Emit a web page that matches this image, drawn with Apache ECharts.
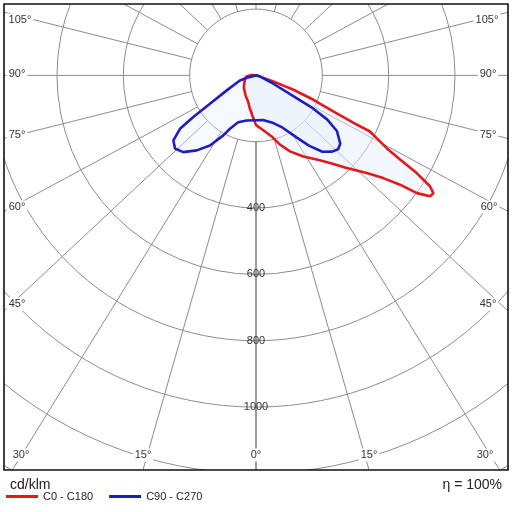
<!DOCTYPE html>
<html><head><meta charset="utf-8">
<script src="https://cdn.jsdelivr.net/npm/echarts@6/dist/echarts.min.js"></script>
<style>html,body{margin:0;padding:0;background:#fff}#c{width:512px;height:512px}</style>
</head><body><div id="c"></div>
<script>
// ---- data (gamma angle in degrees, intensity in cd/klm) ----
const c0Angles   = [0, 7.6, 14.4, 19.1, 24.1, 30.3, 35.8, 40.2, 44.4, 48.6, 51.1, 52.8, 53.8, 55.2, 56.4, 57.5, 58.7, 59.7, 60.9, 62.5, 63.8, 64.1, 65.0, 67.0, 69.0, 70.9, 73, 80, 180];
const c0Values   = [149, 167, 190, 221, 251, 283, 313, 346, 391, 445, 493, 545, 601, 639, 642, 622, 567, 503, 451, 410, 383, 327, 257, 188, 121, 55, 15, 3, 0];
const c180Angles = [0, 5, 11, 17, 26, 45, 67, 84, 95, 120, 180];
const c180Values = [150, 122, 100, 82, 70, 52, 37, 29, 15, 5, 0];
const c90Angles  = [0, 10, 20, 27, 33, 37, 41, 45, 48, 51, 55.5, 58.2, 60.1, 61.0, 65.2, 75, 90, 180];
const c90Values  = [135, 137, 153, 177, 222, 265, 305, 325, 333, 327, 296, 253, 193, 130, 51, 12, 3, 0];
const c270Angles = [0, 11.7, 20.8, 26, 28.6, 33.3, 38.3, 43.5, 47.9, 51.8, 54.9, 56.4, 58.4, 62.9, 72.6, 76, 90, 180];
const c270Values = [135, 139, 151, 179, 206, 253, 288, 319, 329, 317, 280, 227, 163, 99, 51, 25, 3, 0];
const radialLabels = [400, 600, 800, 1000];
const spokeAngles = [0, 15, 30, 45, 60, 75, 90, 105, 120, 135, 150, 165, 180];
const seriesNames = ['C0 - C180', 'C90 - C270'];

// ---- layout / style ----
const FONT = 'Arial, "Liberation Sans", sans-serif';
const RED = '#e3191c', BLUE = '#1d1dc4';
const K = 0.935; // apparent vertical compression of the angle rays in the reference
const angleLabelLayout = [
  ['105°', 20, 20], ['90°', 17, 74], ['75°', 17, 135], ['60°', 17, 207], ['45°', 17, 304], ['30°', 21, 455],
  ['15°', 143, 455], ['0°', 256, 455], ['15°', 369, 455], ['30°', 485, 455],
  ['45°', 488, 304], ['60°', 489, 207], ['75°', 488, 135], ['90°', 488, 74], ['105°', 487, 20]
];

function rightPts(a, v) { return a.map((g, i) => [v[i], g]); }
function leftPts(a, v) { return a.map((g, i) => [v[i], 360 - g]).reverse(); }
const redData = leftPts(c180Angles, c180Values).concat(rightPts(c0Angles, c0Values));
const blueData = leftPts(c270Angles, c270Values).concat(rightPts(c90Angles, c90Values));

function apparent(t) { const r = t * Math.PI / 180; return Math.atan2(Math.sin(r), K * Math.cos(r)) * 180 / Math.PI; }
const spokeSeries = [];
spokeAngles.forEach(t => {
  const a = apparent(t);
  const list = (t === 0 || t === 180) ? [a] : [a, 360 - a];
  list.forEach(ang => spokeSeries.push({
    type: 'line', coordinateSystem: 'polar', silent: true, symbol: 'none', z: 1,
    data: [[200, ang], [1600, ang]],
    lineStyle: { color: t === 0 ? '#3a3a3a' : '#8c8c8c', width: 1 }
  }));
});

const chart = echarts.init(document.getElementById('c'));
chart.setOption({
  animation: false,
  polar: { center: [256, 75.4], radius: [0, 530.7] },
  angleAxis: { type: 'value', min: 0, max: 360, startAngle: 270, clockwise: false,
    axisLine: { show: false }, axisTick: { show: false }, axisLabel: { show: false }, splitLine: { show: false } },
  radiusAxis: { type: 'value', min: 0, max: 1600, interval: 200,
    axisLine: { show: false }, axisTick: { show: false }, axisLabel: { show: false },
    splitLine: { show: true, lineStyle: { color: '#8c8c8c', width: 1 } } },
  legend: { data: seriesNames, left: 6, top: 491, padding: 0, itemGap: 16, itemWidth: 32, itemHeight: 3,
    icon: 'rect', z: 200, textStyle: { fontSize: 11, color: '#222', fontFamily: FONT } },
  series: [
    { name: seriesNames[0], type: 'line', coordinateSystem: 'polar', data: redData, symbol: 'none', z: 4,
      color: RED, lineStyle: { color: RED, width: 2.6 } },
    { name: seriesNames[1], type: 'line', coordinateSystem: 'polar', data: blueData, symbol: 'none', z: 5,
      color: BLUE, lineStyle: { color: BLUE, width: 2.6 } },
    { name: 'fill-red', type: 'line', coordinateSystem: 'polar', data: redData, symbol: 'none', z: 2, silent: true,
      lineStyle: { width: 0, opacity: 0 }, areaStyle: { color: 'rgba(228,238,250,0.7)' } },
    { name: 'fill-blue', type: 'line', coordinateSystem: 'polar', data: blueData, symbol: 'none', z: 3, silent: true,
      lineStyle: { width: 0, opacity: 0 }, areaStyle: { color: 'rgba(228,238,250,0.45)' } }
  ].concat(spokeSeries)
});

const els = [
  { type: 'rect', shape: { x: 0, y: 0, width: 512, height: 4 }, style: { fill: '#fff' }, z: 100, silent: true },
  { type: 'rect', shape: { x: 0, y: 0, width: 4, height: 512 }, style: { fill: '#fff' }, z: 100, silent: true },
  { type: 'rect', shape: { x: 508, y: 0, width: 4, height: 512 }, style: { fill: '#fff' }, z: 100, silent: true },
  { type: 'rect', shape: { x: 0, y: 470, width: 512, height: 42 }, style: { fill: '#fff' }, z: 100, silent: true },
  { type: 'rect', shape: { x: 4, y: 4, width: 504, height: 466 }, style: { fill: null, stroke: '#111', lineWidth: 1.6 }, z: 120, silent: true },
  { type: 'text', x: 10, y: 485, style: { text: 'cd/klm', font: '14px ' + FONT, fill: '#222', align: 'left', verticalAlign: 'middle' }, z: 120 },
  { type: 'text', x: 502, y: 485, style: { text: 'η = 100%', font: '14px ' + FONT, fill: '#222', align: 'right', verticalAlign: 'middle' }, z: 120 }
];
angleLabelLayout.forEach(([t, x, y]) => els.push({ type: 'text', x: x, y: y, z: 110,
  style: { text: t, font: '11px ' + FONT, fill: '#333', align: 'center', verticalAlign: 'middle', backgroundColor: '#fff', padding: [1, 2] } }));
radialLabels.forEach(v => {
  const p = chart.convertToPixel({ seriesIndex: 0 }, [v, 0]);
  els.push({ type: 'text', x: p[0], y: p[1], z: 110,
    style: { text: String(v), font: '11px ' + FONT, fill: '#333', align: 'center', verticalAlign: 'middle' } });
});
chart.setOption({ graphic: { elements: els } });
</script></body></html>
